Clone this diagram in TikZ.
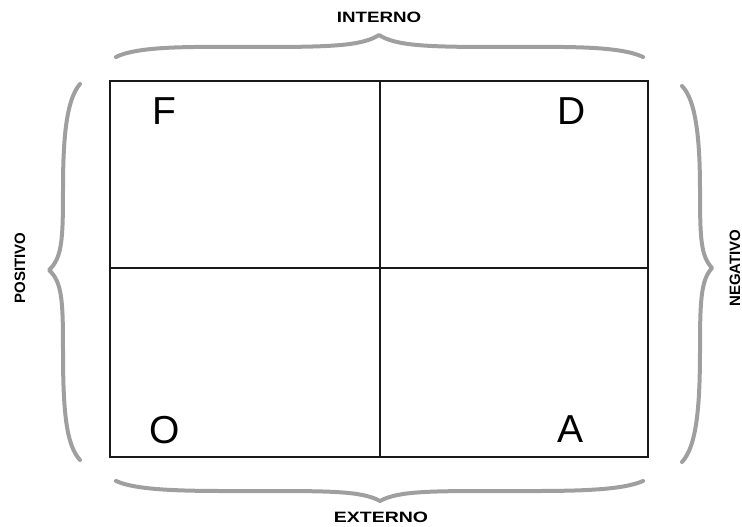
\documentclass[tikz,border=0pt]{standalone}
\usepackage{fontspec}
\setmainfont{Liberation Sans}
\usetikzlibrary{positioning}

\tikzset{
  brace line/.style={draw=gray!75, line width=4pt, line cap=round, line join=round},
  grid line/.style={draw=black!90, line width=1.8pt},
  letter/.style={inner sep=0pt, font=\fontsize{39}{39}\selectfont},
  side label/.style={inner sep=0pt, font=\fontsize{15}{15}\selectfont\bfseries},
}

\begin{document}
\begin{tikzpicture}[x=1pt, y=-1pt]
\useasboundingbox (0,0) rectangle (742,527);
% the four quadrants
\coordinate (nw) at (110,81);
\coordinate (se) at (648,457);
\draw[grid line] (nw) rectangle (se);
\draw[grid line] (380,81) -- (380,457);
\draw[grid line] (110,268) -- (648,268);
\node[letter] (f) at (164,111) {F};
\node[letter] (d) at (572,111) {D};
\node[letter] (o) at (165,430) {O};
\node[letter] (a) at (571,429) {A};
% braces around the box
\draw[brace line] (116,57) .. controls (140,45) and (200,47) .. (260,47)
  .. controls (330,47) and (362,46) .. (379,35)
  .. controls (396,46) and (428,47) .. (498,47)
  .. controls (558,47) and (618,45) .. (643,57);
\draw[brace line] (116,481) .. controls (140,492) and (200,491) .. (260,491)
  .. controls (330,491) and (362,491) .. (380,501)
  .. controls (398,491) and (430,491) .. (500,491)
  .. controls (560,491) and (618,492) .. (643,481);
\draw[brace line] (80,84) .. controls (66,100) and (63,140) .. (63,190)
  .. controls (63,240) and (62,258) .. (49,270)
  .. controls (62,282) and (63,300) .. (63,350)
  .. controls (63,410) and (66,445) .. (80,460);
\draw[brace line] (682,86) .. controls (696,100) and (700,140) .. (700,190)
  .. controls (700,240) and (701,256) .. (712,268)
  .. controls (701,280) and (700,300) .. (700,350)
  .. controls (700,410) and (696,447) .. (682,462);
% labels
\node[side label, xscale=1.25] (interno) at (379,17) {INTERNO};
\node[side label, xscale=1.3] (externo) at (381,517) {EXTERNO};
\node[side label, rotate=90] (positivo) at (20,268) {POSITIVO};
\node[side label, rotate=90] (negativo) at (735,268) {NEGATIVO};
\end{tikzpicture}
\end{document}
